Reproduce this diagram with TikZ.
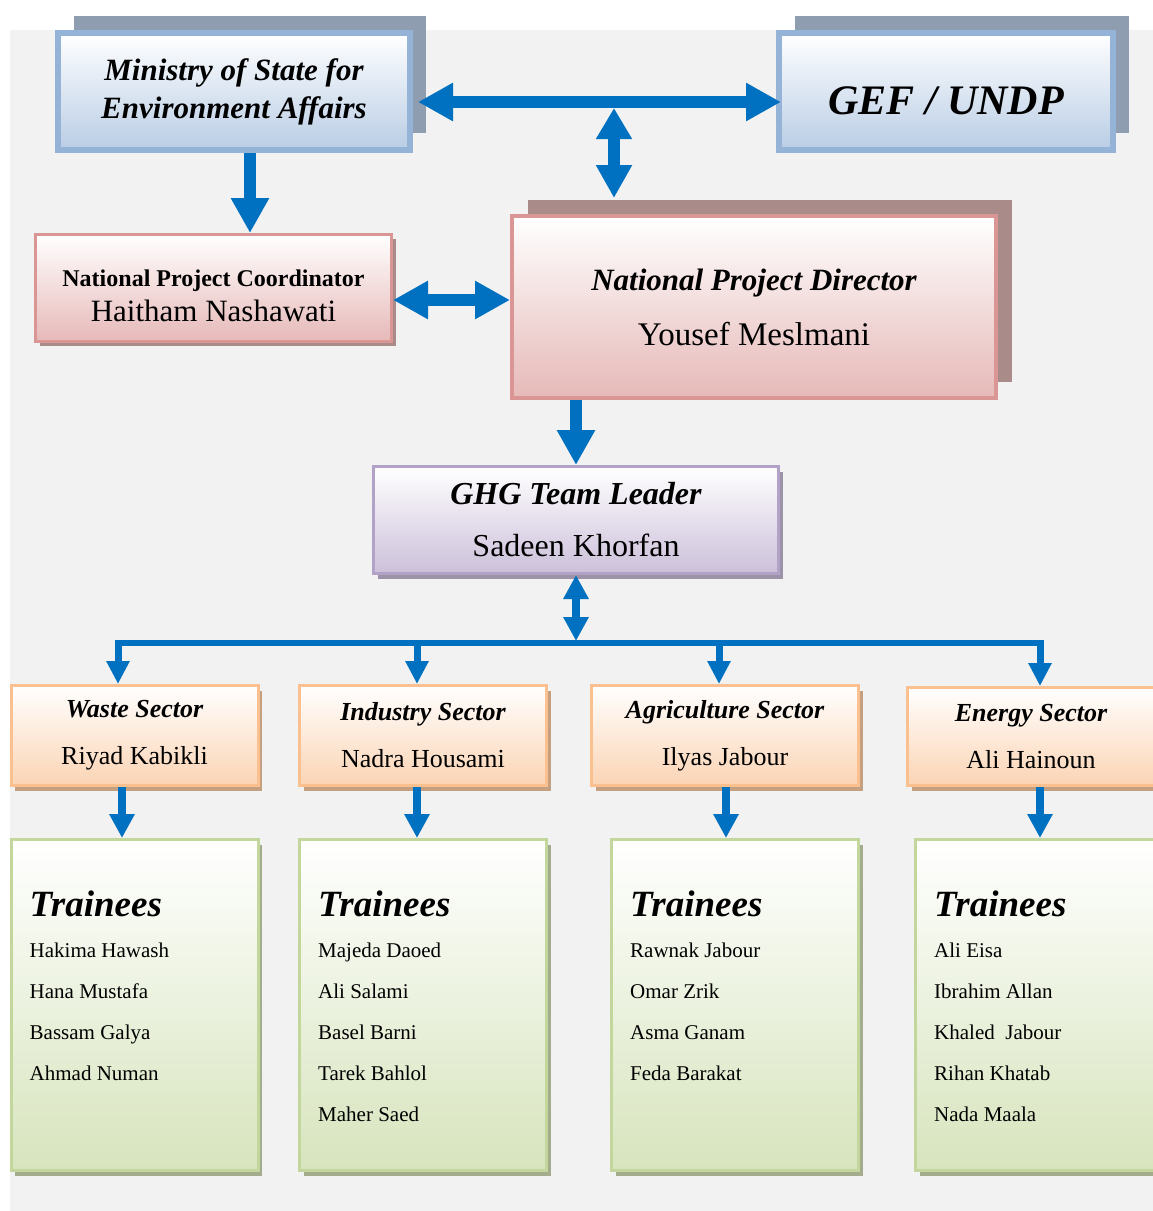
\documentclass[tikz,border=0pt]{standalone}
\usepackage{fontspec}
\setmainfont{Liberation Serif}
\usepackage{xcolor}
\usetikzlibrary{arrows.meta,shadows,calc}
\definecolor{bg}{HTML}{F2F2F2}
\definecolor{arrowblue}{HTML}{0070C0}
\definecolor{govline}{HTML}{95B3D7}
\definecolor{govfill}{HTML}{B9CDE5}
\definecolor{govshade}{HTML}{8F9DB0}
\definecolor{dirline}{HTML}{D99694}
\definecolor{dirfill}{HTML}{E6B9B8}
\definecolor{dirshade}{HTML}{A98B8A}
\definecolor{ghgline}{HTML}{B3A2C7}
\definecolor{ghgfill}{HTML}{CCC0DA}
\definecolor{ghgshade}{HTML}{9D93A8}
\definecolor{secline}{HTML}{FAC090}
\definecolor{secfill}{HTML}{FBD4B4}
\definecolor{secshade}{HTML}{C49F80}
\definecolor{trnline}{HTML}{C3D69B}
\definecolor{trnfill}{HTML}{D7E4BD}
\definecolor{trnshade}{HTML}{A3AC8C}
\newcommand{\hdr}[1]{{\bfseries\itshape #1}}
\tikzset{
  box/.style={rectangle, inner sep=0pt, align=center, text=black},
  govbox/.style={box, draw=govline, line width=6pt, top color=white, bottom color=govfill,
    minimum height=117pt, general shadow={fill=govshade, shadow xshift=16pt, shadow yshift=17pt}},
  dirbox/.style={box, draw=dirline, line width=4pt, top color=white, bottom color=dirfill,
    general shadow={fill=dirshade, shadow xshift=16pt, shadow yshift=16pt}},
  coordbox/.style={box, draw=dirline, line width=3pt, top color=white, bottom color=dirfill,
    general shadow={fill=dirshade, shadow xshift=4pt, shadow yshift=-4pt}},
  ghgbox/.style={box, draw=ghgline, line width=3pt, top color=white, bottom color=ghgfill,
    general shadow={fill=ghgshade, shadow xshift=4pt, shadow yshift=-5pt}},
  secbox/.style={box, draw=secline, line width=3pt, top color=white, bottom color=secfill,
    minimum width=247pt, minimum height=100pt, font=\fontsize{26}{47}\selectfont,
    general shadow={fill=secshade, shadow xshift=4pt, shadow yshift=-5pt}},
  trnbox/.style={box, draw=trnline, line width=3pt, top color=white, bottom color=trnfill,
    minimum width=247pt, minimum height=331pt,
    general shadow={fill=trnshade, shadow xshift=4pt, shadow yshift=-5pt}},
  trnhead/.style={anchor=base west, inner sep=0pt, font=\bfseries\itshape\fontsize{37}{44}\selectfont},
  trnname/.style={anchor=base west, inner sep=0pt, font=\fontsize{21}{25}\selectfont},
  bigarr/.style={draw=arrowblue, line width=12pt, arrows={-Triangle[length=35pt,width=36pt]}},
  bigdbl/.style={draw=arrowblue, line width=12pt,
    arrows={Triangle[length=35pt,width=36pt]-Triangle[length=35pt,width=36pt]}},
  hubdbl/.style={draw=arrowblue, line width=12pt,
    arrows={Triangle[length=31pt,width=34pt]-Triangle[length=33pt,width=34pt]}},
  midarr/.style={draw=arrowblue, line width=8pt, arrows={-Triangle[length=24pt,width=24pt]}},
  middbl/.style={draw=arrowblue, line width=8pt,
    arrows={Triangle[length=24pt,width=24pt]-Triangle[length=24pt,width=24pt]}},
  busline/.style={draw=arrowblue, line width=6pt},
  droparr/.style={draw=arrowblue, line width=7pt, arrows={-Triangle[length=23pt,width=22pt]}},
}

\begin{document}
\begin{tikzpicture}[x=1pt,y=-1pt]
  \useasboundingbox (0,0) rectangle (1153,1211);
  \clip (0,0) rectangle (1153,1211);
  \fill[bg] (10,30) rectangle (1153,1211);

  % top level
  \node[govbox, minimum width=352pt, font=\bfseries\itshape\fontsize{31}{38}\selectfont]
    (min) at (234,91.5) {Ministry of State for\\Environment Affairs};
  \node[govbox, minimum width=334pt,
    label={[yshift=-9pt, font=\bfseries\itshape\fontsize{42}{50}\selectfont]center:GEF / UNDP}]
    (gef) at (946,91.5) {};

  % project management
  \node[dirbox, minimum width=484pt, minimum height=182pt, font=\fontsize{33}{55}\selectfont]
    (dir) at (754,307) {\hdr{\fontsize{31}{55}\selectfont National Project Director}\\Yousef Meslmani};
  \node[coordbox, minimum width=356pt, minimum height=107pt, font=\fontsize{31}{35}\selectfont]
    (coord) at (213.5,288) {\rule{0pt}{32pt}{\bfseries\fontsize{24}{35}\selectfont National Project Coordinator}\\Haitham Nashawati};
  \node[ghgbox, minimum width=405pt, minimum height=107pt, font=\fontsize{32}{52}\selectfont]
    (ghg) at (576,520) {\hdr{GHG Team Leader}\\Sadeen Khorfan};

  % sectors
  \node[secbox] (secW) at (134.5,735.5) {\hdr{Waste Sector}\\Riyad Kabikli};
  \node[secbox] (secI) at (423,735.5) {\hdr{Industry Sector}\\Nadra Housami};
  \node[secbox, minimum width=267pt] (secA) at (725,735.5) {\hdr{Agriculture Sector}\\Ilyas Jabour};
  \node[secbox, minimum height=98pt] (secE) at (1031,736.5) {\hdr{Energy Sector}\\Ali Hainoun};

  % trainees
  \node[trnbox] (trnW) at (134.5,1005) {};
  \node[trnbox] (trnI) at (423,1005) {};
  \node[trnbox] (trnA) at (735,1005) {};
  \node[trnbox] (trnE) at (1039,1005) {};
  \foreach \t/\names in {W/{Hakima Hawash,Hana Mustafa,Bassam Galya,Ahmad Numan},
      I/{Majeda Daoed,Ali Salami,Basel Barni,Tarek Bahlol,Maher Saed},
      A/{Rawnak Jabour,Omar Zrik,Asma Ganam,Feda Barakat},
      E/{Ali Eisa,Ibrahim Allan,Khaled~ Jabour,Rihan Khatab,Nada Maala}}{
    \node[trnhead] (head\t) at ($(trn\t.north west)+(20,78.5)$) {Trainees};
    \foreach \n [count=\i] in \names
      \node[trnname] (name\t\i) at ($(trn\t.north west)+(20,78.5+41*\i)$) {\n};
  }

  % connectors
  \coordinate (hub) at (614,108);
  \coordinate (dirtop) at ([yshift=16pt]dir.north);
  \coordinate (busc) at (577,641);
  \coordinate (d1) at (118,643);
  \coordinate (d2) at (417,643);
  \coordinate (d3) at (719,643);
  \coordinate (d4) at (1040,643);

  \draw[bigdbl] ([shift={(5,10.5)}]min.east) -- ([shift={(5,10.5)}]min.east -| gef.west);
  \draw[hubdbl] (hub) -- (hub |- dirtop);
  \draw[bigarr] ([xshift=16pt]min.south) -- ([xshift=16pt]min.south |- coord.north);
  \draw[bigdbl] ([yshift=-12pt]coord.east) -- ([yshift=-12pt]coord.east -| dir.west);
  \draw[bigarr] (ghg.north |- dir.south) -- (ghg.north);
  \draw[middbl] (ghg.south) -- (ghg.south |- busc);
  \draw[busline] (d1) -- (d4);
  \foreach \d/\s in {d1/W,d2/I,d3/A,d4/E}
    \draw[droparr] ([yshift=3pt]\d) -- (\d |- sec\s.north);
  \foreach \s/\o in {W/-12.5,I/-6,A/1,E/9}
    \draw[midarr] ([xshift=\o pt]sec\s.south) -- ([xshift=\o pt]sec\s.south |- trn\s.north);
\end{tikzpicture}
\end{document}
